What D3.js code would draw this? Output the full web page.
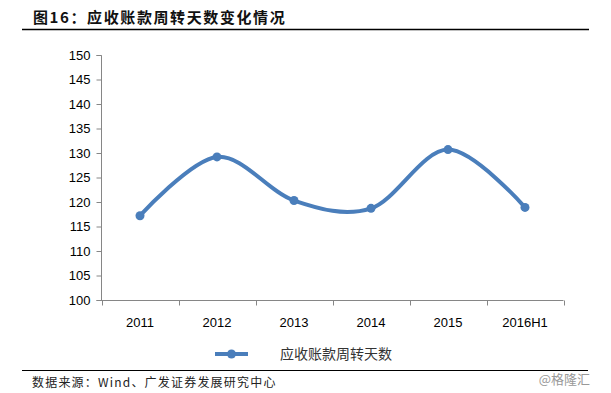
<!DOCTYPE html>
<html lang="en">
<head>
<meta charset="utf-8">
<title>应收账款周转天数变化情况</title>
<script src="https://d3js.org/d3.v7.min.js"></script>
<style>
  body { margin:0; background:#fff; }
  svg text { font-family: "Liberation Sans", Arial, "Noto Sans CJK SC", sans-serif; }
  .axis path, .axis line { stroke:#868686; }
  .axis text { font-size:13px; fill:#000; }
</style>
</head>
<body>
<svg width="611" height="393"></svg>
<script>
// data
var years = ["2011", "2012", "2013", "2014", "2015", "2016H1"];
var days = [117.2, 129.2, 120.3, 118.7, 130.7, 118.9];
var yTicks = [100, 105, 110, 115, 120, 125, 130, 135, 140, 145, 150];
var seriesName = "应收账款周转天数";

var svg = d3.select("svg");
var blue = "#4a7ebb";

// header
svg.append("text")
  .attr("x", 33).attr("y", 23)
  .style("font-size", "15px").style("font-weight", "bold")
  .style("letter-spacing", "1.6px")
  .style("font-family", "'Noto Sans CJK SC', sans-serif")
  .attr("fill", "#111")
  .text("图16：应收账款周转天数变化情况");
svg.append("line")
  .attr("x1", 22).attr("x2", 589).attr("y1", 29.5).attr("y2", 29.5)
  .attr("stroke", "#000").attr("stroke-width", 1.5);

var x = d3.scaleBand().domain(years).range([101.5, 563.5]);
var y = d3.scaleLinear().domain([100, 150]).range([300, 55]);

// y axis
svg.append("g").attr("class", "axis")
  .attr("transform", "translate(101.5,0)")
  .call(d3.axisLeft(y).tickValues(yTicks).tickSize(5).tickPadding(6))
  .call(function(g) { g.select(".domain").attr("d", "M-5,55.5H0V300.5"); });

// x axis with ticks between categories
var xg = svg.append("g").attr("class", "axis")
  .attr("transform", "translate(0,300.5)");
xg.append("line").attr("x1", 96.5).attr("x2", 563.5).attr("stroke", "#868686");
var bounds = years.map(function(d) { return x(d); }).concat([x.range()[1]]);
xg.selectAll(".tk").data(bounds).enter().append("line")
  .attr("x1", function(d) { return Math.round(d) + 0.5; })
  .attr("x2", function(d) { return Math.round(d) + 0.5; })
  .attr("y1", 0).attr("y2", 5).attr("stroke", "#868686");
xg.selectAll(".lbl").data(years).enter().append("text")
  .attr("x", function(d) { return x(d) + x.bandwidth() / 2; })
  .attr("y", 26).attr("text-anchor", "middle")
  .text(function(d) { return d; });

// series
var pts = years.map(function(d, i) { return [x(d) + x.bandwidth() / 2, y(days[i])]; });
svg.append("path")
  .attr("d", d3.line().curve(d3.curveCardinal.tension(0))(pts))
  .attr("fill", "none").attr("stroke", blue).attr("stroke-width", 4)
  .attr("stroke-linecap", "round");
svg.selectAll(".dot").data(pts).enter().append("circle")
  .attr("cx", function(d) { return d[0]; }).attr("cy", function(d) { return d[1]; })
  .attr("r", 4.5).attr("fill", blue);

// legend
var lg = svg.append("g").attr("transform", "translate(215,354)");
lg.append("line").attr("x1", 0).attr("x2", 33).attr("stroke", blue).attr("stroke-width", 4);
lg.append("circle").attr("cx", 16.5).attr("r", 4.5).attr("fill", blue);
lg.append("text").attr("x", 65).attr("y", 5)
  .style("font-size", "14px").attr("fill", "#333")
  .style("font-family", "'Noto Sans CJK SC', sans-serif")
  .text(seriesName);

// footer
svg.append("line")
  .attr("x1", 22).attr("x2", 588).attr("y1", 370.5).attr("y2", 370.5)
  .attr("stroke", "#000").attr("stroke-width", 1.2);
svg.append("text")
  .attr("x", 32).attr("y", 387)
  .style("font-size", "12px").attr("fill", "#222")
  .style("letter-spacing", "1.2px")
  .style("font-family", "'Noto Sans CJK SC', 'DejaVu Sans Mono', monospace")
  .text("数据来源：Wind、广发证券发展研究中心");
svg.append("text")
  .attr("x", 590).attr("y", 384).attr("text-anchor", "end")
  .style("font-size", "13px").attr("fill", "#999")
  .style("font-family", "'Noto Sans CJK SC', sans-serif")
  .text("@格隆汇");
</script>
</body>
</html>
